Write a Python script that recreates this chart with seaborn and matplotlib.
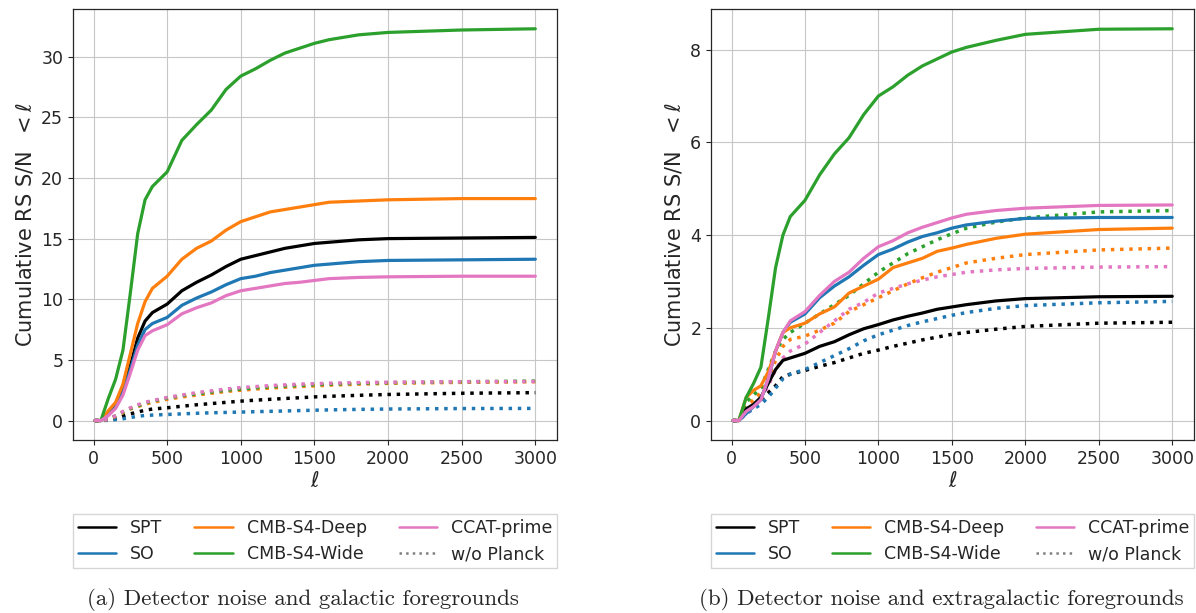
import numpy as np
import pandas as pd
import matplotlib
matplotlib.use("Agg")
import matplotlib.pyplot as plt
import seaborn as sns
from matplotlib.lines import Line2D

# multipole grid shared by all curves
ELL = [10, 50, 100, 150, 200, 250, 300, 350, 400, 500, 600, 700, 800, 900, 1000,
       1100, 1200, 1300, 1400, 1500, 1600, 1800, 2000, 2500, 3000]

# (a) detector noise + galactic foregrounds
GAL_SPT = [0, 0, 0.6, 1.2, 2.5, 4.5, 6.8, 8.2, 8.9, 9.6, 10.7, 11.4, 12.0, 12.7, 13.3, 13.6, 13.9, 14.2, 14.4, 14.6, 14.7, 14.9, 15.0, 15.05, 15.1]
GAL_SO = [0, 0, 0.5, 1.1, 2.3, 4.2, 6.2, 7.5, 8.0, 8.5, 9.5, 10.1, 10.6, 11.2, 11.7, 11.9, 12.2, 12.4, 12.6, 12.8, 12.9, 13.1, 13.2, 13.25, 13.3]
GAL_DEEP = [0, 0, 0.8, 1.5, 3.0, 5.5, 8.0, 9.8, 10.9, 11.9, 13.3, 14.2, 14.8, 15.7, 16.4, 16.8, 17.2, 17.4, 17.6, 17.8, 18.0, 18.1, 18.2, 18.3, 18.3]
GAL_WIDE = [0, 0, 1.8, 3.4, 5.8, 10.5, 15.4, 18.2, 19.3, 20.5, 23.1, 24.4, 25.6, 27.3, 28.4, 29.0, 29.7, 30.3, 30.7, 31.1, 31.4, 31.8, 32.0, 32.2, 32.3]
GAL_CCAT = [0, 0, 0.4, 1.0, 2.1, 3.9, 5.8, 7.0, 7.4, 7.9, 8.8, 9.3, 9.7, 10.3, 10.7, 10.9, 11.1, 11.3, 11.4, 11.55, 11.7, 11.8, 11.85, 11.9, 11.9]

GAL_SPT_NP = [0, 0, 0.05, 0.15, 0.35, 0.55, 0.7, 0.85, 0.95, 1.05, 1.18, 1.3, 1.4, 1.5, 1.6, 1.68, 1.75, 1.82, 1.88, 1.95, 2.0, 2.08, 2.15, 2.25, 2.3]
GAL_SO_NP = [0, 0, 0.02, 0.08, 0.15, 0.25, 0.35, 0.42, 0.45, 0.5, 0.55, 0.6, 0.64, 0.67, 0.7, 0.73, 0.76, 0.79, 0.82, 0.85, 0.88, 0.92, 0.95, 0.99, 1.0]
GAL_DEEP_NP = [0, 0, 0.1, 0.35, 0.65, 0.95, 1.15, 1.35, 1.5, 1.75, 1.95, 2.1, 2.25, 2.4, 2.5, 2.6, 2.68, 2.75, 2.8, 2.86, 2.92, 3.0, 3.07, 3.15, 3.2]
GAL_WIDE_NP = [0, 0, 0.1, 0.4, 0.7, 1.0, 1.2, 1.45, 1.6, 1.85, 2.05, 2.2, 2.35, 2.5, 2.6, 2.7, 2.78, 2.85, 2.9, 2.95, 3.0, 3.07, 3.12, 3.2, 3.25]
GAL_CCAT_NP = [0, 0, 0.1, 0.4, 0.75, 1.05, 1.3, 1.5, 1.65, 1.9, 2.1, 2.3, 2.45, 2.6, 2.72, 2.8, 2.88, 2.94, 3.0, 3.04, 3.08, 3.13, 3.16, 3.2, 3.22]

# (b) detector noise + extragalactic foregrounds
EXG_SPT = [0, 0, 0.25, 0.35, 0.5, 0.8, 1.1, 1.3, 1.35, 1.45, 1.6, 1.7, 1.85, 1.98, 2.07, 2.17, 2.25, 2.32, 2.4, 2.45, 2.5, 2.58, 2.63, 2.67, 2.68]
EXG_SO = [0, 0, 0.15, 0.3, 0.45, 0.9, 1.5, 1.9, 2.12, 2.3, 2.65, 2.9, 3.1, 3.35, 3.58, 3.7, 3.85, 3.97, 4.05, 4.15, 4.22, 4.3, 4.36, 4.38, 4.38]
EXG_DEEP = [0, 0, 0.5, 0.65, 0.75, 1.05, 1.5, 1.9, 2.0, 2.1, 2.3, 2.45, 2.75, 2.9, 3.05, 3.3, 3.4, 3.5, 3.65, 3.72, 3.8, 3.93, 4.02, 4.12, 4.15]
EXG_WIDE = [0, 0, 0.5, 0.8, 1.15, 2.2, 3.3, 4.0, 4.4, 4.75, 5.3, 5.75, 6.1, 6.6, 7.0, 7.2, 7.45, 7.65, 7.8, 7.95, 8.05, 8.2, 8.33, 8.44, 8.45]
EXG_CCAT = [0, 0, 0.2, 0.3, 0.45, 0.9, 1.5, 1.9, 2.15, 2.35, 2.7, 3.0, 3.2, 3.5, 3.75, 3.88, 4.05, 4.17, 4.27, 4.37, 4.45, 4.53, 4.58, 4.64, 4.65]

EXG_SPT_NP = [0, 0, 0.2, 0.3, 0.45, 0.6, 0.75, 0.95, 1.0, 1.08, 1.17, 1.25, 1.35, 1.45, 1.52, 1.6, 1.67, 1.74, 1.8, 1.86, 1.9, 1.97, 2.03, 2.1, 2.12]
EXG_SO_NP = [0, 0, 0.15, 0.25, 0.35, 0.5, 0.7, 0.9, 1.0, 1.1, 1.25, 1.4, 1.55, 1.72, 1.85, 1.95, 2.05, 2.13, 2.2, 2.27, 2.33, 2.42, 2.48, 2.54, 2.57]
EXG_DEEP_NP = [0, 0, 0.3, 0.45, 0.6, 0.9, 1.3, 1.6, 1.75, 1.82, 1.95, 2.1, 2.35, 2.5, 2.65, 2.8, 2.95, 3.08, 3.2, 3.3, 3.4, 3.5, 3.58, 3.68, 3.72]
EXG_WIDE_NP = [0, 0, 0.4, 0.55, 0.7, 1.1, 1.5, 1.75, 1.9, 2.1, 2.3, 2.5, 2.7, 2.95, 3.2, 3.4, 3.6, 3.75, 3.9, 4.03, 4.15, 4.28, 4.37, 4.5, 4.53]
EXG_CCAT_NP = [0, 0, 0.15, 0.3, 0.45, 0.75, 1.1, 1.35, 1.5, 1.65, 1.9, 2.15, 2.4, 2.55, 2.75, 2.85, 2.95, 3.03, 3.1, 3.15, 3.2, 3.25, 3.28, 3.31, 3.32]

EXPERIMENTS = ["SPT", "SO", "CMB-S4-Deep", "CMB-S4-Wide", "CCAT-prime"]
COLORS = ["black", "#1f77b4", "#ff7f0e", "#2ca02c", "#e377c2"]

CAPTIONS = ["(a) Detector noise and galactic foregrounds",
            "(b) Detector noise and extragalactic foregrounds"]

sns.set_style("whitegrid", {"axes.edgecolor": "0.15", "grid.color": "0.78",
                            "xtick.bottom": True, "ytick.left": True})

fig = plt.figure(figsize=(11.96, 6.13), dpi=100)
ax1 = fig.add_axes([0.061, 0.282, 0.405, 0.703])
ax2 = fig.add_axes([0.5945, 0.282, 0.404, 0.703])

panels = [
    (ax1, [GAL_SPT, GAL_SO, GAL_DEEP, GAL_WIDE, GAL_CCAT],
          [GAL_SPT_NP, GAL_SO_NP, GAL_DEEP_NP, GAL_WIDE_NP, GAL_CCAT_NP]),
    (ax2, [EXG_SPT, EXG_SO, EXG_DEEP, EXG_WIDE, EXG_CCAT],
          [EXG_SPT_NP, EXG_SO_NP, EXG_DEEP_NP, EXG_WIDE_NP, EXG_CCAT_NP]),
]

for ax, solid, dotted in panels:
    for name, col, y in zip(EXPERIMENTS, COLORS, dotted):
        sns.lineplot(x=ELL, y=y, color=col, ls=":", lw=2.5, ax=ax, legend=False)
    for name, col, y in zip(EXPERIMENTS, COLORS, solid):
        sns.lineplot(x=ELL, y=y, color=col, lw=2.3, ax=ax, legend=False)
    ax.set_xticks([0, 500, 1000, 1500, 2000, 2500, 3000])
    ax.tick_params(labelsize=12.5, length=3.5, width=0.8, color="0.15")
    ax.set_xlabel(r"$\ell$", fontsize=15, labelpad=2)
    ax.set_ylabel(r"Cumulative RS S/N $\ <\ell$", fontsize=15)
    for s in ax.spines.values():
        s.set_linewidth(0.9)

handles = [Line2D([], [], color=c, lw=1.8) for c in COLORS]
handles.append(Line2D([], [], color="grey", ls=":", lw=1.8))
labels = EXPERIMENTS + ["w/o Planck"]

for ax, cap, cx in [(ax1, CAPTIONS[0], 0.253), (ax2, CAPTIONS[1], 0.787)]:
    pos = ax.get_position()
    fig.legend(handles, labels, ncol=3, loc="lower left", mode="expand",
               bbox_to_anchor=(pos.x0, 0.073, pos.width, 0.09),
               borderaxespad=0, fontsize=12.5, frameon=True, fancybox=False,
               edgecolor="0.8", handlelength=2.2, columnspacing=1.0,
               borderpad=0.3, labelspacing=0.45)
    fig.text(cx, 0.022, cap, ha="center", va="center", fontsize=16.5,
             fontfamily="cmr10")

fig.savefig("out.png", dpi=100)
